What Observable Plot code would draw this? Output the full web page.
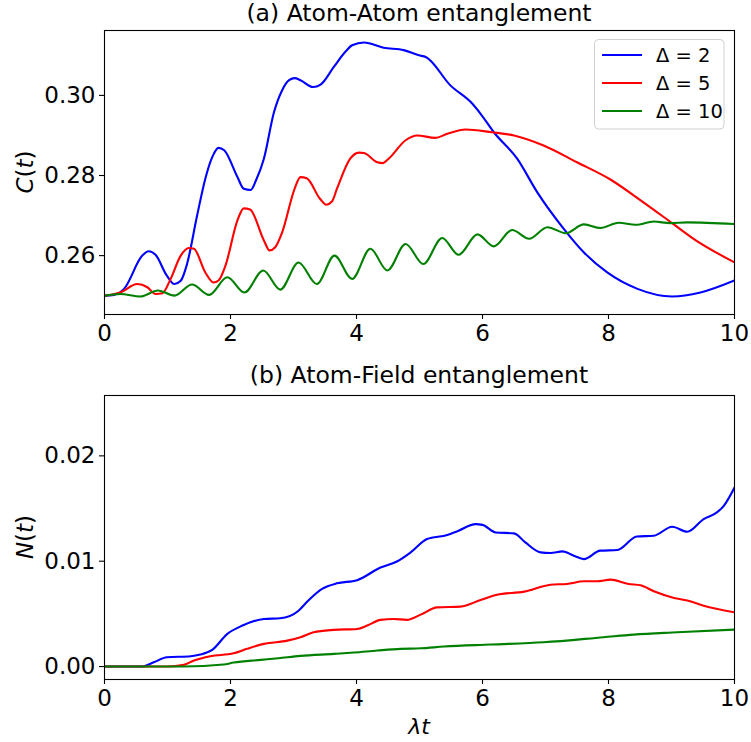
<!DOCTYPE html>
<html>
<head>
<meta charset="utf-8">
<script src="https://cdn.jsdelivr.net/npm/d3@7"></script>
<script src="https://cdn.jsdelivr.net/npm/@observablehq/plot@0.6"></script>
<style>
  body { margin: 0; background: #fff; }
  #root { position: relative; width: 751px; height: 742px; overflow: hidden; background: #fff; }
  #root > svg { position: absolute; left: 0; }
</style>
</head>
<body>
<div id="root"></div>
<script>
// ---------- data ----------
const seriesNames = ["Δ = 2", "Δ = 5", "Δ = 10"];
const seriesColors = ["#0000ff", "#ff0000", "#008000"];
const xTicks = [0, 2, 4, 6, 8, 10];
const cTicks = [0.26, 0.28, 0.30];
const nTicks = [0.00, 0.01, 0.02];
const titleA = "(a) Atom-Atom entanglement";
const titleB = "(b) Atom-Field entanglement";

// (a) C(t) : [λt, value]
const cDelta2 = [[0,0.250],[0.15,0.2502],[0.31,0.2517],[0.6,0.260],[0.70,0.2611],[0.81,0.2602],[0.99,0.255],[1.11,0.2529],[1.21,0.2537],[1.31,0.2579],[1.47,0.270],[1.60,0.2792],[1.71,0.2846],[1.81,0.2869],[1.90,0.2863],[2.11,0.2796],[2.21,0.2767],[2.32,0.2764],[2.41,0.279],[2.53,0.2842],[2.69,0.2958],[2.82,0.3013],[2.93,0.3038],[3.02,0.3043],[3.11,0.3038],[3.31,0.3021],[3.43,0.3027],[3.64,0.3071],[3.83,0.311],[3.93,0.3125],[4.12,0.3132],[4.43,0.3119],[4.75,0.3113],[4.99,0.3100],[5.10,0.3096],[5.49,0.3025],[5.84,0.2979],[5.97,0.2954],[6.18,0.2908],[6.55,0.2842],[6.87,0.2758],[7.29,0.2667],[7.61,0.2608],[7.98,0.2558],[8.46,0.2517],[9.01,0.2498],[9.46,0.2508],[10,0.2538]];
const cDelta5 = [[0,0.250],[0.25,0.2508],[0.52,0.2529],[0.68,0.2521],[0.81,0.2504],[0.92,0.2506],[1.05,0.2542],[1.21,0.260],[1.34,0.2619],[1.42,0.2617],[1.60,0.2558],[1.73,0.2533],[1.81,0.2538],[1.92,0.2575],[2.11,0.2688],[2.21,0.2718],[2.31,0.2715],[2.53,0.2638],[2.62,0.2613],[2.71,0.2621],[2.82,0.2658],[3.02,0.2768],[3.11,0.2796],[3.21,0.2793],[3.42,0.2742],[3.52,0.2727],[3.61,0.2735],[3.69,0.2767],[3.90,0.2842],[4.04,0.2857],[4.12,0.2856],[4.33,0.2833],[4.42,0.2831],[4.51,0.2842],[4.78,0.2888],[4.96,0.290],[5.25,0.2894],[5.44,0.2904],[5.73,0.2915],[6.15,0.2908],[6.50,0.290],[6.97,0.2875],[7.50,0.2833],[8.03,0.279],[8.51,0.2738],[9.01,0.2681],[9.35,0.2642],[10,0.2583]];
const cDelta10 = [[0,0.250],[0.25,0.2504],[0.57,0.2498],[0.85,0.2513],[1.11,0.250],[1.39,0.2528],[1.66,0.2502],[1.95,0.2546],[2.22,0.2508],[2.52,0.2563],[2.79,0.2515],[3.08,0.2583],[3.37,0.2529],[3.65,0.260],[3.93,0.2542],[4.22,0.2617],[4.49,0.2563],[4.78,0.2629],[5.06,0.2579],[5.36,0.2644],[5.62,0.2602],[5.92,0.2653],[6.18,0.2623],[6.47,0.2664],[6.74,0.2642],[7.03,0.2671],[7.32,0.2656],[7.61,0.2678],[7.87,0.2669],[8.16,0.2682],[8.43,0.2677],[8.72,0.2685],[8.98,0.2681],[9.25,0.2683],[10,0.2679]];

// (b) N(t) : [λt, value]
const nDelta2 = [[0,0],[0.60,0],[0.78,0.0004],[0.99,0.00088],[1.37,0.00098],[1.52,0.00114],[1.71,0.00158],[1.95,0.0031],[2.19,0.00389],[2.53,0.00452],[2.79,0.00458],[3.08,0.0053],[3.24,0.0063],[3.46,0.0074],[3.69,0.0079],[4.01,0.0082],[4.38,0.0094],[4.65,0.0100],[4.86,0.01084],[5.12,0.0121],[5.44,0.01248],[5.62,0.0129],[5.89,0.01352],[6.00,0.01345],[6.21,0.01273],[6.50,0.01264],[6.68,0.01178],[6.92,0.01084],[7.08,0.01078],[7.27,0.01093],[7.45,0.01052],[7.61,0.0102],[7.87,0.011],[8.14,0.01106],[8.45,0.01235],[8.72,0.01242],[9.01,0.01327],[9.25,0.0128],[9.51,0.014],[9.72,0.01463],[9.83,0.01526],[10,0.017]];
const nDelta5 = [[0,0],[0.99,0],[1.26,0.00016],[1.42,0.00057],[1.68,0.00098],[2.05,0.00126],[2.26,0.00168],[2.53,0.00215],[2.90,0.00246],[3.11,0.00278],[3.32,0.00325],[3.64,0.00348],[4.01,0.00357],[4.17,0.00389],[4.38,0.00443],[4.59,0.00452],[4.80,0.00443],[5.02,0.00493],[5.28,0.00562],[5.65,0.00569],[5.97,0.00632],[6.23,0.00682],[6.66,0.00711],[7.08,0.00777],[7.34,0.00784],[7.61,0.00809],[7.82,0.00809],[8.03,0.00825],[8.32,0.00784],[8.51,0.00771],[8.72,0.00714],[9.04,0.00651],[9.25,0.00626],[9.51,0.00578],[10,0.00515]];
const nDelta10 = [[0,0],[1.26,0],[1.89,0.00019],[2.05,0.00038],[2.48,0.00063],[2.76,0.00079],[3.11,0.00101],[3.64,0.0012],[3.96,0.00133],[4.33,0.00152],[4.70,0.00168],[5.02,0.00173],[5.39,0.0019],[6.13,0.00209],[6.97,0.0023],[7.92,0.00278],[8.40,0.00303],[9.09,0.00325],[10,0.00351]];

// ---------- build ----------
function toRows(list) {
  const rows = [];
  list.forEach((arr, i) => arr.forEach(([t, v]) => rows.push({t, v, s: seriesNames[i]})));
  return rows;
}
const rowsC = toRows([cDelta2, cDelta5, cDelta10]);
const rowsN = toRows([nDelta2, nDelta5, nDelta10]);

const FONT = "DejaVu Sans";
const TICKFS = 23;

function panel(rows, yDomain, yTicks, h, mt, mb) {
  return Plot.plot({
    width: 751, height: h,
    marginTop: mt, marginBottom: mb, marginLeft: 104, marginRight: 17,
    style: {fontFamily: FONT, color: "#000", background: "transparent", overflow: "visible"},
    x: {domain: [0, 10]},
    y: {domain: yDomain},
    color: {domain: seriesNames, range: seriesColors},
    marks: [
      Plot.line(rows, {x: "t", y: "v", z: "s", stroke: "s", strokeWidth: 2.1, curve: "monotone-x", clip: true}),
      Plot.frame({stroke: "#000", strokeWidth: 1.1}),
      Plot.axisX({ticks: xTicks, tickSize: 5, tickPadding: 5, fontSize: TICKFS, tickFormat: d => String(d), label: null, strokeWidth: 1.1}),
      Plot.axisY({ticks: yTicks, tickSize: 5, tickPadding: 4, fontSize: TICKFS, tickFormat: d3.format(".2f"), label: null, strokeWidth: 1.1})
    ]
  });
}

const root = document.getElementById("root");
const p1 = panel(rowsC, [0.2453, 0.3162], cTicks, 360, 30, 46);
p1.style.top = "0px";
root.appendChild(p1);
const p2 = panel(rowsN, [-0.00123, 0.02573], nTicks, 382, 35, 63);
p2.style.top = "360px";
root.appendChild(p2);

// ---------- overlay: titles, axis labels, legend ----------
const ov = d3.select(root).append("svg")
  .attr("width", 751).attr("height", 742)
  .style("top", "0px").style("pointer-events", "none")
  .attr("font-family", FONT).attr("fill", "#000");

ov.append("text").attr("x", 419).attr("y", 21).attr("text-anchor", "middle").attr("font-size", 23.5).text(titleA);
ov.append("text").attr("x", 419).attr("y", 383).attr("text-anchor", "middle").attr("font-size", 23.5).text(titleB);

function ylab(cy, letter) {
  const t = ov.append("text").attr("transform", `translate(33,${cy}) rotate(-90)`)
    .attr("text-anchor", "middle").attr("font-size", 23);
  t.append("tspan").attr("font-style", "italic").text(letter);
  t.append("tspan").text("(");
  t.append("tspan").attr("font-style", "italic").text("t");
  t.append("tspan").text(")");
}
ylab(172, "C");
ylab(537, "N");

ov.append("text").attr("x", 419).attr("y", 734).attr("text-anchor", "middle")
  .attr("font-size", 22).attr("font-style", "italic").text("λt");

// legend
const lg = ov.append("g");
lg.append("rect").attr("x", 594.5).attr("y", 39.5).attr("width", 129.5).attr("height", 89.5)
  .attr("rx", 4).attr("fill", "#fff").attr("fill-opacity", 0.8).attr("stroke", "#d0d0d0").attr("stroke-width", 1);
seriesNames.forEach((name, i) => {
  const y = 55 + i * 28;
  lg.append("line").attr("x1", 602).attr("x2", 642).attr("y1", y).attr("y2", y)
    .attr("stroke", seriesColors[i]).attr("stroke-width", 2.1);
  lg.append("text").attr("x", 656).attr("y", y + 7).attr("font-size", 19.5).text(name);
});
</script>
</body>
</html>
